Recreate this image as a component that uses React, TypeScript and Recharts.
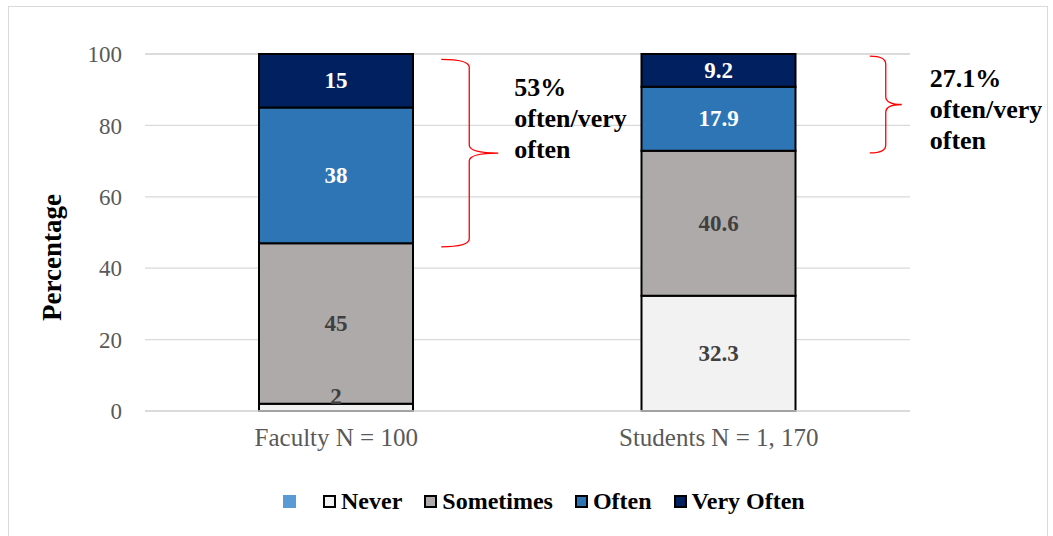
import { BarChart, Bar, XAxis, YAxis, CartesianGrid, LabelList, ReferenceArea } from 'recharts';

const groups = ['Faculty N = 100', 'Students N = 1, 170'];
const never = [2, 32.3];
const sometimes = [45, 40.6];
const often = [38, 17.9];
const veryOften = [15, 9.2];
const yTicks = [0, 20, 40, 60, 80, 100];

// bracket spans (percent) and their notes
const braceFrom = [46, 72.3];
const braceTo = [98.5, 99.4];
const braceNotes = [
  ['53%', 'often/very', 'often'],
  ['27.1%', 'often/very', 'often'],
];

const FONT = '"Liberation Serif", "Times New Roman", serif';
const BAR_SIZE = 154;

const SERIES = [
  { key: 'never', name: 'Never', fill: '#f2f2f2', text: '#404040' },
  { key: 'sometimes', name: 'Sometimes', fill: '#aeaaaa', text: '#404040' },
  { key: 'often', name: 'Often', fill: '#2e75b6', text: '#ffffff' },
  { key: 'veryOften', name: 'Very Often', fill: '#002060', text: '#ffffff' },
];

const data = groups.map((g, i) => ({
  group: g,
  never: never[i],
  sometimes: sometimes[i],
  often: often[i],
  veryOften: veryOften[i],
}));

// placement of each brace relative to its bar's right edge
const braceLayout = [
  { start: 28, spine: 56, tip: 85, textDx: 16, textDy: 28 },
  { start: 74, spine: 90, tip: 106, textDx: 28, textDy: 22 },
];

function segmentLabel(color: string) {
  return (props: any) => {
    const { x, y, width, height, value } = props;
    const cy = height < 20 ? y + height - 15 : y + height / 2;
    return (
      <text
        x={x + width / 2}
        y={cy}
        textAnchor="middle"
        dominantBaseline="central"
        fill={color}
        fontFamily={FONT}
        fontWeight="bold"
        fontSize={23}
      >
        {value}
      </text>
    );
  };
}

function braceShape(i: number) {
  return (props: any) => {
    const { x, y, width, height } = props;
    const L = braceLayout[i];
    const barRight = x + width / 2 + BAR_SIZE / 2;
    const xs = barRight + L.start;
    const xm = barRight + L.spine;
    const xt = barRight + L.tip;
    const top = y;
    const bot = y + height;
    const mid = (top + bot) / 2;
    const r = 8;
    const d = [
      `M ${xs} ${top}`,
      `Q ${xm} ${top} ${xm} ${top + r}`,
      `L ${xm} ${mid - r}`,
      `Q ${xm} ${mid} ${xt} ${mid}`,
      `Q ${xm} ${mid} ${xm} ${mid + r}`,
      `L ${xm} ${bot - r}`,
      `Q ${xm} ${bot} ${xs} ${bot}`,
    ].join(' ');
    return (
      <g>
        <path d={d} fill="none" stroke="#ff0000" strokeWidth={1.3} />
        <text fontFamily={FONT} fontWeight="bold" fontSize={26} fill="#000">
          {braceNotes[i].map((line, k) => (
            <tspan key={k} x={xt + L.textDx} y={top + L.textDy + k * 31} dominantBaseline="central">
              {line}
            </tspan>
          ))}
        </text>
      </g>
    );
  };
}

export default function App() {
  return (
    <div style={{ position: 'absolute', left: 0, top: 0, width: 1053, height: 536, background: '#fff', fontFamily: FONT }}>
      <div
        style={{
          position: 'absolute',
          left: 8,
          top: 6,
          width: 1040,
          height: 540,
          border: '1px solid #d9d9d9',
          boxSizing: 'border-box',
        }}
      />
      <BarChart
        width={1053}
        height={536}
        data={data}
        barSize={BAR_SIZE}
        margin={{ top: 54, right: 143, bottom: 65, left: 65 }}
        style={{ position: 'absolute', left: 0, top: 0 }}
      >
        <CartesianGrid vertical={false} stroke="#d9d9d9" strokeWidth={1.3} />
        <XAxis
          dataKey="group"
          height={60}
          tickSize={0}
          tickMargin={17}
          axisLine={{ stroke: '#d9d9d9', strokeWidth: 1.3 }}
          tick={{ fontSize: 25, fill: '#595959', fontFamily: FONT }}
        />
        <YAxis
          width={80}
          domain={[0, 100]}
          ticks={yTicks}
          tickSize={0}
          tickMargin={23}
          axisLine={false}
          tick={{ fontSize: 23, fill: '#595959', fontFamily: FONT }}
          label={(props: any) => {
            const vb = props.viewBox;
            const cy = vb.y + vb.height / 2 + 25;
            return (
              <text
                x={52}
                y={cy}
                transform={`rotate(-90 52 ${cy})`}
                textAnchor="middle"
                dominantBaseline="central"
                fontFamily={FONT}
                fontWeight="bold"
                fontSize={27}
                fill="#000"
              >
                Percentage
              </text>
            );
          }}
        />
        {SERIES.map((s) => (
          <Bar
            key={s.key}
            dataKey={s.key}
            name={s.name}
            stackId="a"
            fill={s.fill}
            stroke="#000"
            strokeWidth={2}
            isAnimationActive={false}
          >
            <LabelList dataKey={s.key} content={segmentLabel(s.text)} />
          </Bar>
        ))}
        {groups.map((g, i) => (
          <ReferenceArea
            key={g}
            x1={g}
            x2={g}
            y1={braceFrom[i]}
            y2={braceTo[i]}
            ifOverflow="visible"
            shape={braceShape(i)}
          />
        ))}
      </BarChart>
      <div
        style={{
          position: 'absolute',
          left: 283,
          top: 488,
          display: 'flex',
          alignItems: 'center',
          fontWeight: 'bold',
          fontSize: 24,
          color: '#000',
          whiteSpace: 'nowrap',
        }}
      >
        <span style={{ width: 13, height: 13, background: '#5b9bd5', marginRight: 27 }} />
        {SERIES.map((s) => (
          <span key={s.key} style={{ display: 'flex', alignItems: 'center', marginRight: 22 }}>
            <span
              style={{
                width: 9,
                height: 9,
                background: s.fill,
                border: '2px solid #000',
                marginRight: 5,
              }}
            />
            {s.name}
          </span>
        ))}
      </div>
    </div>
  );
}
